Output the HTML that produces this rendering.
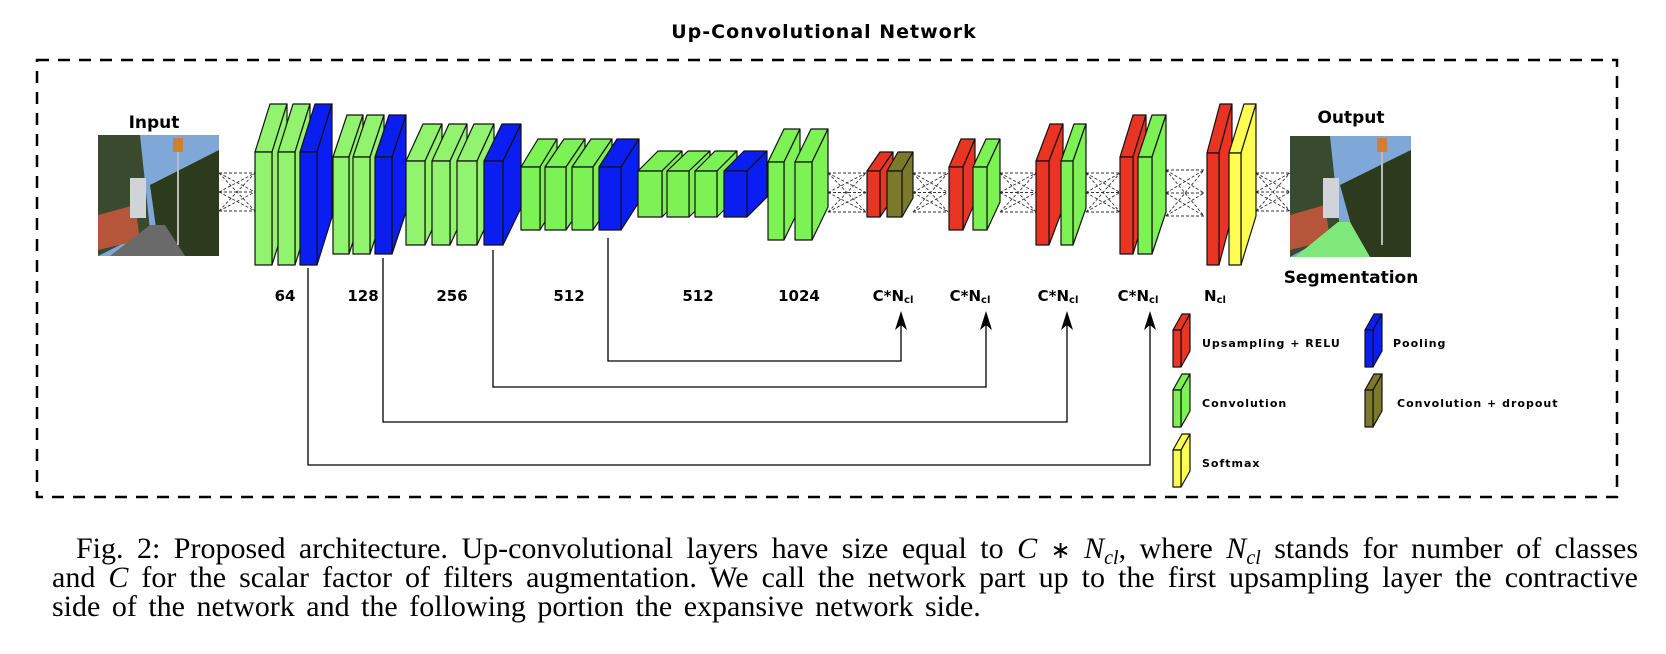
<!DOCTYPE html>
<html><head><meta charset="utf-8">
<style>
html,body{margin:0;padding:0;background:#fff;}
body{width:1666px;height:654px;position:relative;overflow:hidden;}
svg{position:absolute;left:0;top:0;}
#caption{position:absolute;left:52px;top:534px;width:1586px;font-family:"Liberation Serif",serif;font-size:30px;line-height:29px;color:#000;margin:0;}
#caption div{white-space:nowrap;text-align:justify;text-align-last:justify;height:29px;}
#caption div.last{text-align-last:left;word-spacing:4px;}
#caption i{font-style:italic;}
#caption .sub{font-size:20px;position:relative;top:6px;line-height:0;}
#caption .ast{font-size:24px;}
</style></head>
<body>
<svg id="diagram" width="1666" height="654" xmlns="http://www.w3.org/2000/svg">
  <text x="824" y="38" text-anchor="middle" font-family="DejaVu Sans, sans-serif" font-weight="bold" font-size="19" letter-spacing="1">Up-Convolutional Network</text>
  <rect x="37" y="60" width="1580" height="437" fill="none" stroke="#000" stroke-width="2.5" stroke-dasharray="12,9"/>
  <g id="connectors"></g>
  <g id="skips"></g>
  <g id="blocks"></g>
  <g id="labels" font-family="DejaVu Sans, sans-serif" font-weight="bold" font-size="15"></g>
  <text x="154" y="128" text-anchor="middle" font-family="DejaVu Sans, sans-serif" font-weight="bold" font-size="17">Input</text>
  <g>
    <rect x="98" y="135" width="121" height="121" fill="#7fa8d8"/>
    <polygon points="98,135 140,135 150,230 98,256" fill="#3a4a2e"/>
    <polygon points="150,185 219,150 219,256 160,256" fill="#2c3a1e"/>
    <polygon points="98,215 135,205 140,240 98,250" fill="#b5553a"/>
    <polygon points="110,256 150,225 165,225 185,256" fill="#6a6a6a"/>
    <rect x="130" y="178" width="16" height="40" fill="#d0d4d8"/>
    <rect x="177" y="145" width="2" height="100" fill="#bbb"/>
    <rect x="173" y="138" width="10" height="14" fill="#d08030"/>
  </g>
  <text x="1351" y="123" text-anchor="middle" font-family="DejaVu Sans, sans-serif" font-weight="bold" font-size="17">Output</text>
  <g>
    <rect x="1290" y="136" width="121" height="121" fill="#7fa8d8"/>
    <polygon points="1290,136 1330,136 1340,230 1290,257" fill="#3a4a2e"/>
    <polygon points="1340,185 1411,150 1411,257 1360,257" fill="#2c3a1e"/>
    <polygon points="1290,215 1325,205 1330,240 1290,250" fill="#b5553a"/>
    <polygon points="1295,257 1338,222 1350,222 1370,257" fill="#7ee87a"/>
    <rect x="1323" y="178" width="16" height="40" fill="#d0d4d8"/>
    <rect x="1381" y="145" width="2" height="100" fill="#bbb"/>
    <rect x="1377" y="138" width="10" height="14" fill="#d08030"/>
  </g>
  <text x="1351" y="283" text-anchor="middle" font-family="DejaVu Sans, sans-serif" font-weight="bold" font-size="17">Segmentation</text>
  <g id="legend" font-family="DejaVu Sans, sans-serif" font-weight="bold" font-size="11" letter-spacing="1"></g>
</svg>
<div id="caption">
<div style="padding-left:24px">Fig. 2: Proposed architecture. Up-convolutional layers have size equal to <i>C</i> <span class="ast">∗</span> <i>N<span class="sub">cl</span></i>, where <i>N<span class="sub">cl</span></i> stands for number of classes</div>
<div>and <i>C</i> for the scalar factor of filters augmentation. We call the network part up to the first upsampling layer the contractive</div>
<div class="last">side of the network and the following portion the expansive network side.</div>
</div>
<script>
const NS='http://www.w3.org/2000/svg';
const COLORS={G:'#7cf255',L:'#92f46e',B:'#0a1ef2',R:'#e93424',O:'#7b7a2a',Y:'#fdfd52'};
const layerKinds=['L','L','B','L','L','B','L','L','L','B','G','G','G','B','G','G','G','B','G','G','R','O','R','G','R','G','R','G','R','Y'];
const layerFront=[[255,272],[278,295],[300,317],[333,349],[353,370],[375,392],[406,425],[432,450],[457,477],[484,503],[521,540],[545,566],[572,593],[599,621],[638,662],[667,689],[695,717],[724,747],[768,784],[795,812],[867,880],[887,902],[949,963],[973,987],[1036,1049],[1061,1073],[1120,1133],[1138,1152],[1207,1219],[1229,1241]];
const layerTopBottom=[[152,265],[152,265],[152,265],[157,254],[157,254],[157,254],[161,245],[161,245],[161,245],[161,245],[167,230],[167,230],[167,230],[167,230],[171,217],[171,217],[171,217],[171,217],[162,240],[162,240],[171,217],[171,217],[167,230],[167,230],[161,245],[161,245],[157,254],[157,254],[153,265],[153,265]];
const layerBack=[[287,104],[310,104],[332,104],[363,115],[384,115],[406,115],[442,124],[467,124],[494,124],[521,124],[557,139],[585,139],[612,139],[639,139],[682,151],[710,151],[737,151],[767,151],[800,129],[828,129],[893,152],[913,152],[975,139],[1000,139],[1063,124],[1086,124],[1146,115],[1166,115],[1232,104],[1256,104]];
const labelText=['64','128','256','512','512','1024','C*N','C*N','C*N','C*N','N'];
const labelSub=['','','','','','','cl','cl','cl','cl','cl'];
const labelX=[285,363,452,569,698,799,893,970,1058,1138,1215];
const connectorSpans=[[219,255,173,211],[828,866,173,212],[913,948,173,212],[1000,1036,173,212],[1086,1120,173,212],[1166,1204,170,216],[1256,1290,173,211]];
const skipFromX=[308,383,493,608];
const skipFromY=[268,258,250,238];
const skipHorizY=[465,422,387,361];
const skipToX=[1150,1067,986,901];
const legendKinds=['R','B','G','O','Y'];
const legendText=['Upsampling + RELU','Pooling','Convolution','Convolution + dropout','Softmax'];
const legendCol=[0,1,0,1,0];
const legendRow=[0,0,1,1,2];

function mk(tag,attrs,parent){const e=document.createElementNS(NS,tag);for(const k in attrs)e.setAttribute(k,attrs[k]);parent.appendChild(e);return e;}
function block(parent,c,x0,x1,t,b,bx,by,name){
  const g=mk('g',{},parent);
  
  
  const dx=bx-x1, dy=by-t;
  const st={fill:c,stroke:'#111','stroke-width':1.2,'stroke-linejoin':'round'};
  mk('polygon',Object.assign({points:`${x0},${t} ${x1},${t} ${bx},${by} ${x0+dx},${by}`},st),g);
  mk('polygon',Object.assign({points:`${x1},${t} ${bx},${by} ${bx},${b+dy} ${x1},${b}`},st),g);
  mk('rect',Object.assign({x:x0,y:t,width:x1-x0,height:b-t},st),g);
}
const gb=document.getElementById('blocks');
for(let i=0;i<layerKinds.length;i++){
  const f=layerFront[i],tb=layerTopBottom[i],bk=layerBack[i];
  block(gb,COLORS[layerKinds[i]],f[0],f[1],tb[0],tb[1],bk[0],bk[1],'layer-block-'+(i+1));
}
const gl=document.getElementById('labels');
for(let i=0;i<labelText.length;i++){
  const t=mk('text',{x:labelX[i],y:301,'text-anchor':'middle'},gl);
  
  
  t.appendChild(document.createTextNode(labelText[i]));
  if(labelSub[i]){const s=mk('tspan',{'font-size':'10',dy:'2'},t);s.textContent=labelSub[i];}
}
const gc=document.getElementById('connectors');
for(const s of connectorSpans){
  const [a,b,t,bt]=s,m=(t+bt)/2;
  const g=mk('g',{stroke:'#333','stroke-width':0.9,'stroke-dasharray':'3,2',fill:'none'},gc);
  
  
  const L=[[a,t,b,t],[a,m,b,m],[a,bt,b,bt],[a,t,b,m],[a,m,b,bt],[a,bt,b,t],[a,t,b,bt],[a,m,b,t],[a,bt,b,m]];
  for(const l of L)mk('line',{x1:l[0],y1:l[1],x2:l[2],y2:l[3]},g);
}
const gs=document.getElementById('skips');
for(let i=0;i<skipFromX.length;i++){
  const p=mk('polyline',{points:`${skipFromX[i]},${skipFromY[i]} ${skipFromX[i]},${skipHorizY[i]} ${skipToX[i]},${skipHorizY[i]} ${skipToX[i]},314`,fill:'none',stroke:'#000','stroke-width':1.3},gs);
  
  
  const x=skipToX[i];
  const a=mk('polygon',{points:`${x},311 ${x-6},330 ${x},325 ${x+6},330`,fill:'#000'},gs);
  
  
}
const lg=document.getElementById('legend');
for(let i=0;i<legendKinds.length;i++){
  const ox=legendCol[i]?1365:1173, oy=330+legendRow[i]*60;
  block(lg,COLORS[legendKinds[i]],ox,ox+8,oy,oy+37,ox+17,oy-16,'legend-icon');
  const t=mk('text',{x:ox+(legendCol[i]?(i===3?32:28):29),y:oy+17},lg);
  
  
  t.textContent=legendText[i];
}
</script>
</body></html>
